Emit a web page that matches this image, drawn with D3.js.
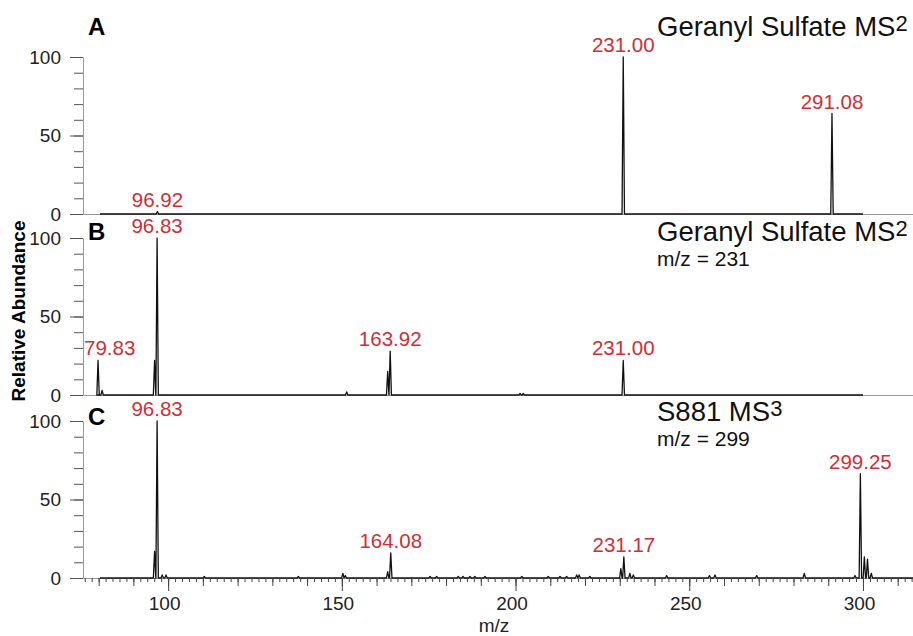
<!DOCTYPE html>
<html>
<head>
<meta charset="utf-8">
<script src="https://cdn.jsdelivr.net/npm/d3@7"></script>
<style>
  body { margin: 0; background: #fff; }
  svg { font-family: "Liberation Sans", Arial, sans-serif; }
</style>
</head>
<body>
<script>
// ---- data (m/z, relative abundance %) ----
var scanA = [80.4, 300];
var mzA  = [96.92, 231.00, 291.08];
var intA = [1.5, 100, 64];
var labelsA = [96.92, 231.00, 291.08];

var scanB = [80.4, 300];
var mzB  = [79.83, 81.0, 96.1, 96.83, 151.4, 163.2, 163.92, 201.3, 202.2, 231.00];
var intB = [22, 3, 22, 100, 2, 15, 28, 1, 1, 22];
var labelsB = [79.83, 96.83, 163.92, 231.00];

var scanC = [80.4, 314.4];
var mzC  = [96.1, 96.83, 98.3, 99.4, 110.4, 137.5, 150.3, 151.0, 163.2, 164.08, 175.4, 177.3,
            183.5, 184.9, 186.9, 188.3, 191.2, 201.8, 209.4, 212.8, 214.7, 217.6, 218.3, 221.4,
            230.3, 231.17, 232.9, 233.9, 243.5, 255.8, 257.4, 269.4, 283.1, 297.7, 299.25,
            300.4, 301.3, 302.4];
var intC = [17, 100, 2, 2, 1, 1, 3, 1.5, 4, 16, 1, 1,
            1, 1, 1, 1, 1, 1, 1, 1, 1, 2, 2, 1,
            6, 13.5, 3, 2, 1.5, 1.5, 2, 1.5, 3, 1.5, 66.5,
            13.5, 12, 3];
var labelsC = [96.83, 164.08, 231.17, 299.25];

var xTickLabels = [100, 150, 200, 250, 300];
var yTickLabels = [0, 50, 100];

// ---- layout ----
var svgWidth = 913, svgHeight = 636;
var plotLeft = 83, plotRight = 913;
var panelTop = [57, 238, 421];
var panelH = 157;
var red = "#cf2f36";

var svg = d3.select("body").append("svg")
  .attr("width", svgWidth)
  .attr("height", svgHeight);

var x = d3.scaleLinear().domain([75.5, 314.4]).range([plotLeft, plotRight]);

var panels = [
  { mz: mzA, ab: intA, scan: scanA, labels: labelsA, letter: "A", letterY: 35,
    title: "Geranyl Sulfate MS", sup: "2", titleY: 36, sub: null },
  { mz: mzB, ab: intB, scan: scanB, labels: labelsB, letter: "B", letterY: 240,
    title: "Geranyl Sulfate MS", sup: "2", titleY: 241, sub: "m/z = 231" },
  { mz: mzC, ab: intC, scan: scanC, labels: labelsC, letter: "C", letterY: 425,
    title: "S881 MS", sup: "3", titleY: 421, sub: "m/z = 299" }
];

var halfWidth = 0.35; // stick peak half width in m/z

panels.forEach(function(p, i) {
  var y = d3.scaleLinear().domain([0, 100]).range([panelTop[i] + panelH, panelTop[i]]);
  var g = svg.append("g");

  // x baseline (grey)
  var xAx = d3.axisBottom(x).tickValues([]).tickSizeOuter(0);
  g.append("g")
    .attr("transform", `translate(0, ${y(0)})`)
    .call(xAx)
    .call(s => s.select(".domain").attr("stroke", "#999").attr("stroke-width", 1));

  // y axis: minor ticks every 10, major at 0/50/100
  g.append("g")
    .attr("transform", `translate(${plotLeft}, 0)`)
    .call(d3.axisLeft(y).tickValues(d3.range(0, 101, 10)).tickSize(9).tickSizeOuter(0).tickFormat(""))
    .call(s => s.select(".domain").attr("stroke", "#999"))
    .call(s => s.selectAll(".tick line").attr("stroke", "#555"));
  g.append("g")
    .attr("transform", `translate(${plotLeft}, 0)`)
    .call(d3.axisLeft(y).tickValues(yTickLabels).tickSize(13).tickPadding(9))
    .call(s => s.select(".domain").remove())
    .call(s => s.selectAll(".tick line").attr("stroke", "#555"))
    .call(s => s.selectAll("text").attr("font-size", 19).attr("font-family", "Liberation Sans, Arial").attr("fill", "#222"));

  // spectrum trace
  var order = d3.range(p.mz.length).sort((a, b) => p.mz[a] - p.mz[b]);
  var pts = [[p.scan[0], 0]];
  order.forEach(function(k) {
    pts.push([p.mz[k] - halfWidth, 0], [p.mz[k], p.ab[k]], [p.mz[k] + halfWidth, 0]);
  });
  pts.push([p.scan[1], 0]);
  var line = d3.line().x(d => x(d[0])).y(d => y(d[1]));
  g.append("path")
    .attr("d", line(pts))
    .attr("fill", "none")
    .attr("stroke", "#111")
    .attr("stroke-width", 1.3)
    .attr("stroke-linejoin", "round");

  // peak labels
  p.labels.forEach(function(m) {
    var k = p.mz.indexOf(m);
    var t = g.append("text")
      .attr("x", x(m))
      .attr("y", y(p.ab[k]) - 5)
      .attr("text-anchor", "middle")
      .attr("font-size", 20.5)
      .attr("fill", red)
      .text(m.toFixed(2));
    var w = t.node().getComputedTextLength();
    if (x(m) - w / 2 < plotLeft + 1) t.attr("x", plotLeft + 1 + w / 2);
  });

  // panel letter
  g.append("text")
    .attr("x", 88).attr("y", p.letterY)
    .attr("font-size", 24).attr("font-weight", "bold")
    .text(p.letter);

  // title
  var tt = g.append("text").attr("x", 657).attr("y", p.titleY).attr("font-size", 27.5).attr("fill", "#111");
  tt.append("tspan").text(p.title);
  tt.append("tspan").attr("dy", -5).attr("font-size", 22).text(p.sup);
  if (p.sub) {
    g.append("text").attr("x", 657).attr("y", p.titleY + 25)
      .attr("font-size", 21).attr("fill", "#111").text(p.sub);
  }

  // bottom axis with labels only on last panel
  if (i === 2) {
    var base = y(0);
    g.append("g").attr("transform", `translate(0, ${base})`)
      .call(d3.axisBottom(x).tickValues(d3.range(76, 315, 2)).tickSize(4).tickSizeOuter(0).tickFormat(""))
      .call(s => s.select(".domain").remove())
      .call(s => s.selectAll(".tick line").attr("stroke", "#444"));
    g.append("g").attr("transform", `translate(0, ${base})`)
      .call(d3.axisBottom(x).tickValues(d3.range(80, 315, 10)).tickSize(8).tickSizeOuter(0).tickFormat(""))
      .call(s => s.select(".domain").remove())
      .call(s => s.selectAll(".tick line").attr("stroke", "#444"));
    g.append("g").attr("transform", `translate(0, ${base})`)
      .call(d3.axisBottom(x).tickValues(xTickLabels).tickSize(13).tickSizeOuter(0).tickPadding(6))
      .call(s => s.select(".domain").remove())
      .call(s => s.selectAll(".tick line").attr("stroke", "#444"))
      .call(s => s.selectAll("text").attr("dx", -4).attr("font-size", 19).attr("font-family", "Liberation Sans, Arial").attr("fill", "#222"));
  }
});

// axis titles
svg.append("text")
  .attr("transform", "translate(25, 311) rotate(-90)")
  .attr("text-anchor", "middle")
  .attr("font-size", 19).attr("font-weight", "bold")
  .text("Relative Abundance");

svg.append("text")
  .attr("x", 494).attr("y", 632)
  .attr("text-anchor", "middle")
  .attr("font-size", 19).attr("fill", "#222")
  .text("m/z");
</script>
</body>
</html>
